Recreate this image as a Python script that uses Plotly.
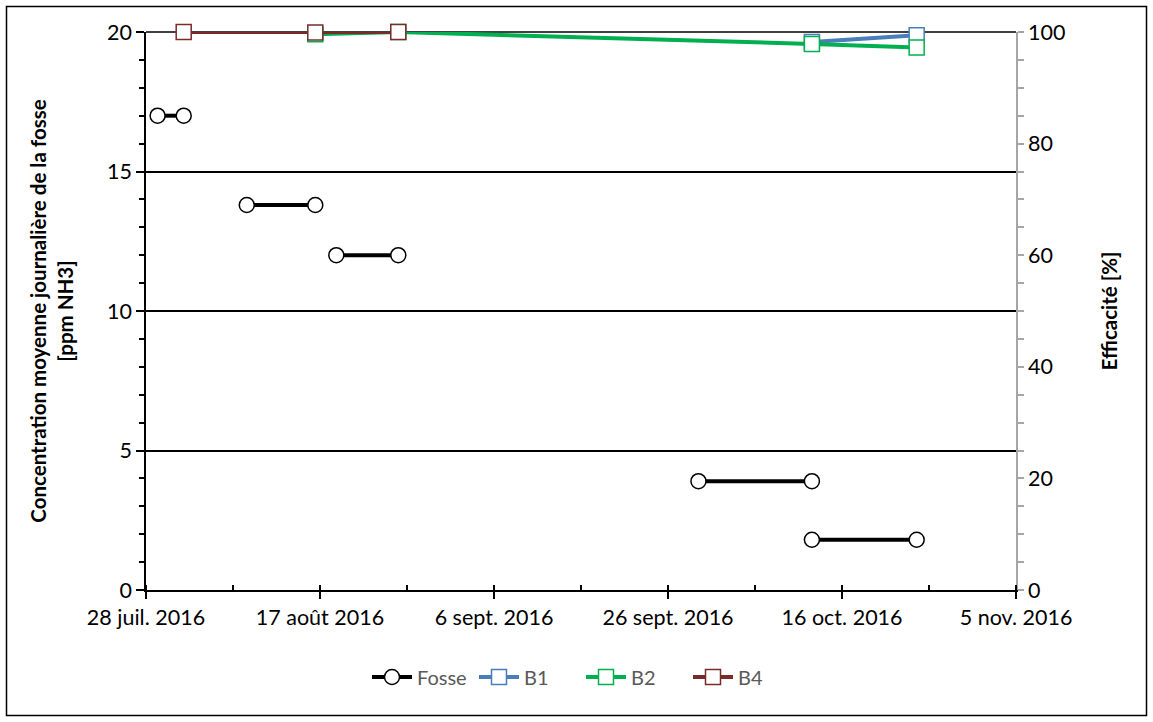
import plotly.graph_objects as go

# ---- data ----
fosse_start = ["2016-07-29 08:00", "2016-08-08 14:00", "2016-08-18 21:00", "2016-09-29 12:00", "2016-10-12 13:00"]
fosse_end = ["2016-08-01 08:00", "2016-08-16 11:00", "2016-08-26 00:00", "2016-10-12 13:00", "2016-10-24 14:00"]
fosse_values = [17.0, 13.8, 12.0, 3.9, 1.8]

b1_dates = ["2016-10-12 13:00", "2016-10-24 14:00"]
b1_values = [98.2, 99.4]

b2_dates = ["2016-08-16 11:00", "2016-08-26 00:00", "2016-10-12 13:00", "2016-10-24 14:00"]
b2_values = [99.6, 100.0, 97.85, 97.2]

b4_dates = ["2016-08-01 08:00", "2016-08-16 11:00", "2016-08-26 00:00"]
b4_values = [100.0, 99.9, 100.0]

x_tickvals = ["2016-07-28", "2016-08-17", "2016-09-06", "2016-09-26", "2016-10-16", "2016-11-05"]
x_ticktext = ["28 juil. 2016", "17 août 2016", "6 sept. 2016", "26 sept. 2016", "16 oct. 2016", "5 nov. 2016"]

# build segmented Fosse series
fx, fy = [], []
for s, e, v in zip(fosse_start, fosse_end, fosse_values):
    fx += [s, e, None]
    fy += [v, v, None]

FONT = "Lato"
TICK = 21.5
TITLE = 20.5
fig = go.Figure()

fig.add_trace(go.Scatter(
    x=fx, y=fy, name="Fosse", mode="lines+markers", connectgaps=False, cliponaxis=False,
    line=dict(color="black", width=4),
    marker=dict(symbol="circle", size=15, color="white", line=dict(color="black", width=1.5)),
    yaxis="y"))

series = [("B1", b1_dates, b1_values, "#4A7EBB"),
          ("B2", b2_dates, b2_values, "#00B050"),
          ("B4", b4_dates, b4_values, "#772C2A")]
for name, xs, ys, col in series:
    fig.add_trace(go.Scatter(
        x=xs, y=ys, name=name, mode="lines+markers", cliponaxis=False,
        line=dict(color=col, width=4),
        marker=dict(symbol="square", size=15, color="white", line=dict(color=col, width=1.5)),
        yaxis="y2"))

W, H = 1153, 722
L, R, T, B = 146, 137, 32, 132
pw, ph = W - L - R, H - T - B

def px(x):
    return (x - L) / pw

def py(y):
    return (H - B - y) / ph

fig.update_layout(
    width=W, height=H,
    margin=dict(l=L, r=R, t=T, b=B),
    paper_bgcolor="white", plot_bgcolor="white",
    font=dict(family=FONT, size=TICK, color="black"),
    showlegend=True,
    legend=dict(orientation="h", x=0.5, xanchor="center", y=py(677), yanchor="middle",
                font=dict(family=FONT, size=20, color="#595959"), itemwidth=40,
                entrywidth=52),
    xaxis=dict(
        type="date", range=["2016-07-28", "2016-11-05"],
        tickvals=x_tickvals, ticktext=x_ticktext,
        showline=True, linecolor="black", linewidth=1.5,
        ticks="outside", ticklen=7, tickcolor="black", tickwidth=1.5,
        minor=dict(ticks="inside", ticklen=5, dtick=10 * 86400000, tick0="2016-07-28",
                   tickcolor="black", tickwidth=1.5, showgrid=False),
        showgrid=False, zeroline=False,
        tickfont=dict(family=FONT, size=TICK, color="black"),
    ),
    yaxis=dict(
        range=[0, 20], dtick=5, tick0=0,
        showline=True, linecolor="black", linewidth=1.5,
        ticks="outside", ticklen=8, tickcolor="black", tickwidth=1.5,
        minor=dict(ticks="outside", ticklen=5, dtick=1, tickcolor="black", tickwidth=1.5, showgrid=False),
        showgrid=True, gridcolor="black", gridwidth=1.5, zeroline=False,
        tickfont=dict(family=FONT, size=TICK, color="black"),
        title=dict(text="<b>Concentration moyenne journalière de la fosse<br>[ppm NH3]</b>",
                   font=dict(family=FONT, size=TITLE, color="black"), standoff=28),
    ),
    yaxis2=dict(
        range=[0, 100], dtick=20, tick0=0, overlaying="y", side="right",
        showline=True, linecolor="#A6A6A6", linewidth=1.5,
        ticks="outside", ticklen=6, tickcolor="#A6A6A6", tickwidth=1.5,
        minor=dict(ticks="outside", ticklen=6, dtick=5, tickcolor="#A6A6A6", tickwidth=1.5, showgrid=False),
        showgrid=False, zeroline=False,
        tickfont=dict(family=FONT, size=TICK, color="black"),
        title=dict(text="<b>Efficacité [%]</b>", font=dict(family=FONT, size=TITLE, color="black"), standoff=38),
    ),
    shapes=[
        dict(type="rect", xref="paper", yref="paper",
             x0=px(6.5), x1=px(1146.5), y0=py(715.5), y1=py(6.5),
             line=dict(color="black", width=1.5), fillcolor="rgba(0,0,0,0)", layer="below"),
        dict(type="line", xref="paper", yref="paper", x0=0, x1=1, y0=1, y1=1,
             line=dict(color="black", width=1.5), layer="below"),
    ],
)

fig.write_html("out.html", config={"displayModeBar": False},
               post_script="document.body.style.margin='0';")
